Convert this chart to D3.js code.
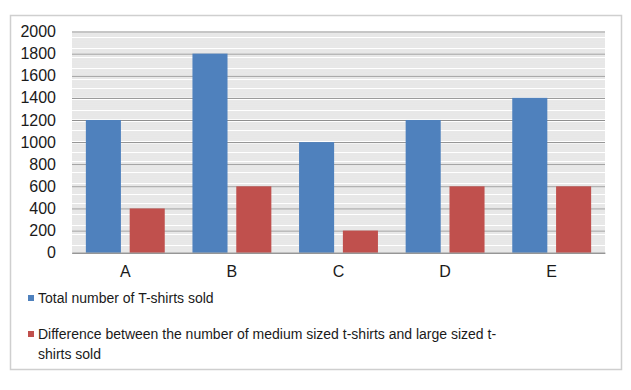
<!DOCTYPE html>
<html>
<head>
<meta charset="utf-8">
<script src="https://cdn.jsdelivr.net/npm/d3@7"></script>
<style>
  body { margin: 0; background: #fff; }
  text { font-family: "Liberation Sans", Arial, sans-serif; fill: #1a1a1a; }
</style>
</head>
<body>
<div id="vis1"></div>
<script>
// frame dimensions
const FRAME_WIDTH = 631;
const FRAME_HEIGHT = 390;

const MARGINS = {left: 72, right: 26, top: 31.5, bottom: 137.3};

// data
const categories = ["A", "B", "C", "D", "E"];
const totalSold = [1200, 1800, 1000, 1200, 1400];
const sizeDiff = [400, 600, 200, 600, 600];
const seriesNames = ["Total number of T-shirts sold",
  "Difference between the number of medium sized t-shirts and large sized t-shirts sold"];
const yTicks = [0, 200, 400, 600, 800, 1000, 1200, 1400, 1600, 1800, 2000];
const COLORS = ["#4F81BD", "#C0504D"];

const VIS_WIDTH = FRAME_WIDTH - MARGINS.left - MARGINS.right;
const VIS_HEIGHT = FRAME_HEIGHT - MARGINS.top - MARGINS.bottom;

const FRAME1 = d3.select("#vis1")
  .append("svg")
    .attr("width", FRAME_WIDTH)
    .attr("height", FRAME_HEIGHT);

// outer chart border
FRAME1.append("rect")
  .attr("x", 10.5).attr("y", 15.5)
  .attr("width", 611).attr("height", 354)
  .attr("fill", "#fff")
  .attr("stroke", "#cfcfcf")
  .attr("stroke-width", 1.5);

const Y_SCALE = d3.scaleLinear()
  .domain([0, 2000])
  .range([VIS_HEIGHT, 0]);

const X_SCALE = d3.scaleBand()
  .domain(categories)
  .range([0, VIS_WIDTH])
  .paddingInner(0.26)
  .paddingOuter(0.13);

const X_SUB = d3.scaleBand()
  .domain([0, 1])
  .range([0, X_SCALE.bandwidth()])
  .paddingInner(0.2);

const plot = FRAME1.append("g")
  .attr("transform", "translate(" + MARGINS.left + "," + MARGINS.top + ")");

// minor gridlines every 20
plot.append("g")
  .selectAll("line")
  .data(d3.range(20, 2000, 20).filter(v => v % 200 !== 0))
  .enter()
  .append("line")
    .attr("x1", 0).attr("x2", VIS_WIDTH)
    .attr("y1", d => Math.round(Y_SCALE(d)) + 0.5)
    .attr("y2", d => Math.round(Y_SCALE(d)) + 0.5)
    .attr("stroke", "#d0d0d0");

// major gridlines
plot.append("g")
  .call(d3.axisLeft(Y_SCALE).tickValues(yTicks).tickSize(-VIS_WIDTH).tickPadding(16).tickFormat(d3.format("d")))
  .call(g => g.select(".domain").remove())
  .call(g => g.selectAll(".tick line").attr("stroke", "#8c8c8c"))
  .call(g => g.selectAll(".tick text").attr("font-size", "16px").attr("fill", "#1a1a1a"));

// bars
const groups = plot.selectAll(".cat")
  .data(categories)
  .enter()
  .append("g")
    .attr("transform", d => "translate(" + X_SCALE(d) + ",0)");

[totalSold, sizeDiff].forEach((series, s) => {
  groups.append("rect")
    .attr("x", X_SUB(s))
    .attr("width", X_SUB.bandwidth())
    .attr("y", (d, i) => Y_SCALE(series[i]))
    .attr("height", (d, i) => VIS_HEIGHT - Y_SCALE(series[i]))
    .attr("fill", COLORS[s]);
});

// x axis
plot.append("g")
  .attr("transform", "translate(0," + VIS_HEIGHT + ")")
  .call(d3.axisBottom(X_SCALE).tickSize(0).tickPadding(13))
  .call(g => g.select(".domain").attr("stroke", "#8c8c8c"))
  .call(g => g.selectAll(".tick text").attr("font-size", "16px").attr("fill", "#1a1a1a"));

// legend
const legend = FRAME1.append("g");
legend.append("rect").attr("x", 28).attr("y", 295).attr("width", 6).attr("height", 6).attr("fill", COLORS[0]);
legend.append("text").attr("x", 38).attr("y", 303).attr("font-size", "14px").text(seriesNames[0]);
legend.append("rect").attr("x", 28).attr("y", 331).attr("width", 6).attr("height", 6).attr("fill", COLORS[1]);
legend.append("text").attr("x", 38).attr("y", 339).attr("font-size", "14px")
  .text("Difference between the number of medium sized t-shirts and large sized t-");
legend.append("text").attr("x", 38).attr("y", 359).attr("font-size", "14px").text("shirts sold");
</script>
</body>
</html>
